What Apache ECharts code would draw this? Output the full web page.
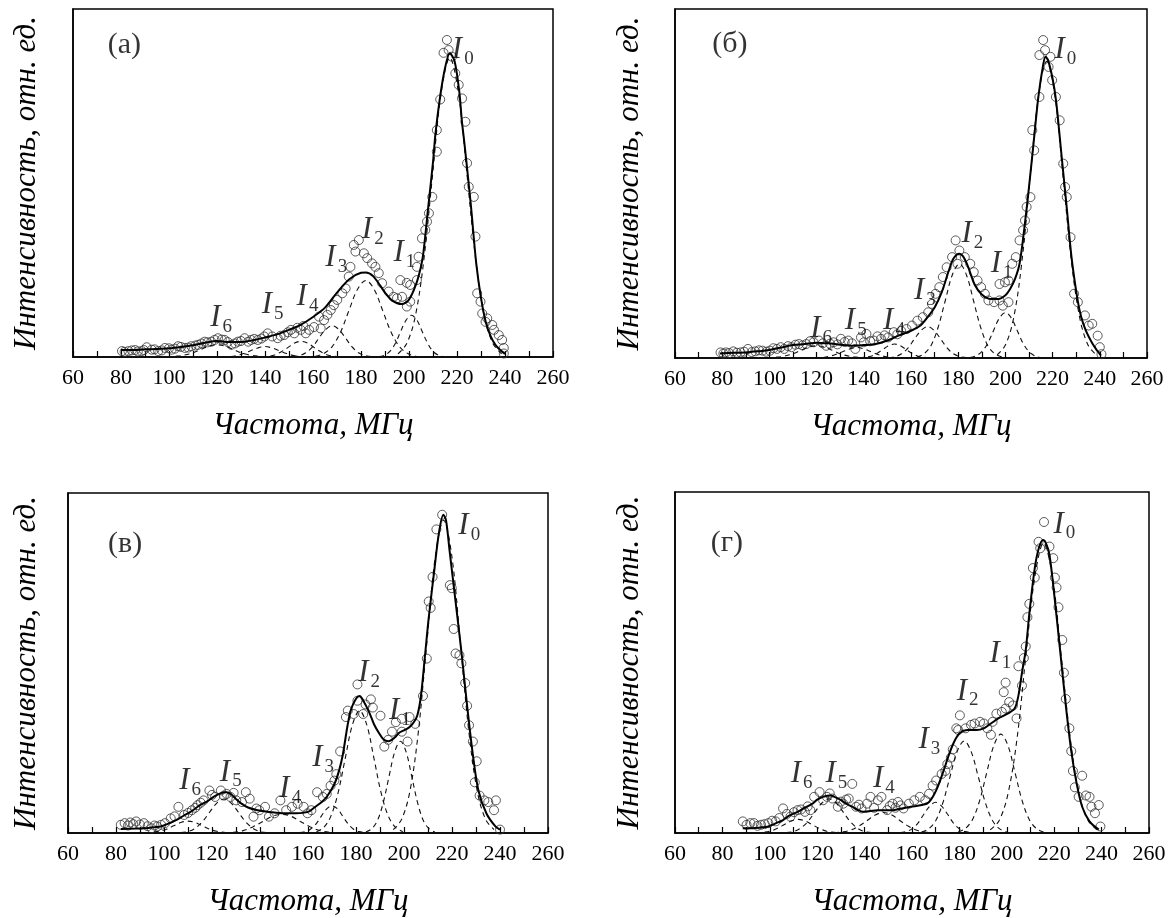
<!DOCTYPE html>
<html><head><meta charset="utf-8">
<script src="https://cdn.jsdelivr.net/npm/echarts@6/dist/echarts.min.js"></script>
<style>html,body{margin:0;padding:0;background:#fff}#c{width:1172px;height:918px}</style>
</head><body><div id="c"></div>
<script>
// ---------- tick labels ----------
const xTickLabels = [60, 80, 100, 120, 140, 160, 180, 200, 220, 240, 260];
const panelNames = ['(а)', '(б)', '(в)', '(г)'];
const xTitle = 'Частота, МГц';
const yTitle = 'Интенсивность, отн. ед.';

// ---------- panel (а) ----------
const scatA = [[80.4,1.7],[81.5,1.5],[83.1,1.7],[84.5,1.9],[85.9,2],[87,1.6],[88.6,1.7],[89.5,2],[90.7,2.8],[92.8,2.1],[94,2.2],[95.5,1.7],[97,1.9],[98.3,2.6],[100,2.5],[101.1,2.1],[102.5,2.4],[103.8,3.1],[105,2.9],[106.6,2.6],[108,2.7],[109.3,3.1],[111,3.3],[112.1,3.5],[113.5,3.9],[114.9,4.4],[116,4.2],[117.6,4.4],[119,4.9],[120.4,5.4],[122,5],[123.2,4.9],[124.5,4.3],[126,3.5],[127.5,3.9],[128.7,4.4],[130,4.6],[131.5,5.4],[133,4.4],[134.2,4.9],[135.5,5.2],[137,4.9],[138.5,5.3],[139.7,5.9],[141.1,6.8],[143,5.9],[145.3,5.4],[146.5,6.1],[148,6.3],[149.5,7.1],[150.8,7.8],[152.2,6.8],[153.5,8.4],[154.9,7.8],[156,8.9],[157,6.8],[158.4,7.8],[160.4,8.6],[162.5,11.6],[163.2,8.2],[164.6,10.6],[166,12.1],[167.4,13.5],[168.7,14.9],[170.1,16.4],[172.2,18.3],[173.6,19.7],[174.9,23.1],[175.6,25.9],[177,32.2],[177.7,30.3],[179.1,33.6],[181.2,29.8],[182.6,28.4],[184.6,26.9],[186,25.9],[187.4,24.1],[188.8,21.2],[191.5,18.8],[193.6,17.3],[195,16.9],[196.4,22.1],[197.1,17.3],[199.1,21.3],[199.1,14.5],[200.5,20.7],[200.5,15.9],[203.3,22.1],[203.3,25.9],[204,28.8],[205.4,34.1],[206.8,36.5],[207.5,38.9],[208.3,41.3],[209.7,46],[211.6,59],[211.6,65.2],[213,74],[214.4,87.4],[215.8,91.1],[216.5,88.2],[217.9,86.3],[219.3,81.5],[220.7,78.2],[222.1,74.3],[223.5,67.6],[224.2,55.7],[224.9,48.9],[227,46],[227.7,34.6],[228.4,18.3],[229.8,15.9],[230.5,12.5],[231.9,10.1],[232.6,11.1],[234.7,9.2],[235.4,7.8],[237.4,6.3],[238.8,4.9],[239.5,2.6],[239.5,1]];
const fitA = [[80,2],[85,2],[90,2.2],[95,2.3],[100,2.5],[105,2.9],[110,3.4],[115,4.1],[120,4.6],[125,4.3],[130,4.3],[135,4.8],[140,5.6],[145,6.5],[150,7.8],[155,9.3],[160,11.5],[165,14.2],[170,18.5],[175,22.3],[180,24.2],[182,24.3],[185,23.3],[188,20.5],[190,18.5],[193,16.2],[197,15.2],[200,16.5],[203,21],[205,26],[206,30],[208,43],[210,56],[211,64],[213,75],[215,83],[217,87.3],[219,85],[221,76],[222,68],[223,62],[225,49],[226,42],[228,27],[230,17],[232,10],[234,6],[236,3.5],[238,2],[240,0.9]];
const compA_I0 = [[195.4,0.9],[199,3.8],[202.6,11.6],[206.2,28],[209.8,52.2],[213.4,75.9],[217,86],[220.6,75.9],[224.2,52.2],[227.8,28],[231.4,11.6],[235,3.8],[238.6,0.9]];
const compA_I1 = [[187.5,0.1],[189.8,0.5],[192,1.6],[194.3,3.9],[196.5,7.3],[198.8,10.6],[201,12],[203.3,10.6],[205.5,7.3],[207.8,3.9],[210,1.6],[212.3,0.5],[214.5,0.1]];
const compA_I2 = [[161,0.2],[164.5,1],[168,3],[171.5,7.2],[175,13.4],[178.5,19.4],[182,22],[185.5,19.4],[189,13.4],[192.5,7.2],[196,3],[199.5,1],[203,0.2]];
const compA_I3 = [[151.5,0.1],[154.3,0.4],[157,1.2],[159.8,2.9],[162.5,5.5],[165.3,7.9],[168,9],[170.8,7.9],[173.5,5.5],[176.3,2.9],[179,1.2],[181.8,0.4],[184.5,0.1]];
const compA_I4 = [[138.5,0],[141.3,0.2],[144,0.6],[146.8,1.5],[149.5,2.7],[152.3,4],[155,4.5],[157.8,4],[160.5,2.7],[163.3,1.5],[166,0.6],[168.8,0.2],[171.5,0]];
const compA_I5 = [[122,0],[125,0.1],[128,0.4],[131,1],[134,1.8],[137,2.6],[140,3],[143,2.6],[146,1.8],[149,1],[152,0.4],[155,0.1],[158,0]];
const compA_I6 = [[99,0],[102.5,0.2],[106,0.5],[109.5,1.1],[113,2.1],[116.5,3.1],[120,3.5],[123.5,3.1],[127,2.1],[130.5,1.1],[134,0.5],[137.5,0.2],[141,0]];
const labA = [['0',222.4,88.2],['1',198.1,29.9],['2',184.9,36.5],['3',169.7,28.4],['4',157.7,17.3],['5',143.2,15],['6',121.7,11.2]];
const panelPosA = [81.4, 89.7];

// ---------- panel (б) ----------
const scatB = [[79.3,1.6],[80.5,1.3],[81.6,1.6],[83,1.4],[84.7,1.9],[86.2,1.5],[87.8,1.6],[89.3,1.8],[90.9,2.6],[92.5,1.7],[94,1.9],[95.6,2.2],[97.1,2.1],[98.7,1.8],[100.2,2.1],[101.7,2.8],[103.2,2.6],[104.8,3.1],[106.3,2.6],[107.9,3.4],[109.4,3.1],[111,3.8],[112.5,4],[114,3.6],[115.6,4],[117.2,4.8],[118.7,4.5],[121,5],[122.6,4.2],[124.1,3.5],[125.7,4.1],[127.2,4.5],[128.8,3.9],[130.3,5.5],[131.9,4.6],[133.4,5],[135,4.2],[136.4,2.6],[138.8,5.9],[140,4.5],[141.1,6.9],[142.7,4.8],[144.2,5],[145.8,6.2],[147.3,5.5],[148.8,6.5],[150.3,5.9],[152.7,7.4],[154.2,6.8],[155.8,7.8],[158.1,8.3],[160.4,9.3],[162.7,10.7],[165,11.7],[167.3,13.1],[168.9,15.5],[170.4,18.4],[172,20.3],[173.5,23.2],[175.1,26],[177.4,28.9],[178.9,33.7],[179.7,27],[180.5,30.8],[182.8,28.9],[185.1,27],[186.6,24.6],[188.2,22.2],[189.7,20.3],[191.3,18.4],[192.8,16.5],[195.2,16],[197.5,16.5],[197.5,21.2],[198.9,15],[199.8,21.7],[201.3,16],[201.3,22.2],[202.9,27],[204.4,28.9],[206,33.7],[207.5,36.6],[208.3,39.4],[209,43.3],[210.6,46.1],[211.4,65.3],[212.2,59.5],[214.4,74.8],[214.4,86.8],[216,91.1],[216.8,88.2],[218.3,83.4],[219.1,86.3],[219.8,79.6],[221.4,74.8],[223,68.1],[224.5,55.7],[225.3,49],[226,46.1],[227.6,34.6],[229.1,18.4],[230.7,16],[233.7,12.2],[235.3,9.3],[236.8,9.8],[239.1,6.4],[240,3.1],[240.7,1.1]];
const fitB = [[79,1.3],[85,1.5],[90,1.6],[95,1.9],[100,2.3],[105,3],[110,3.7],[115,4],[120,4.4],[125,4.2],[130,3.8],[135,3.5],[140,3.7],[145,4],[150,5],[155,6.5],[160,7.8],[164,9.3],[167,11.7],[170,14.5],[173,18.8],[176,25],[178,28.5],[180.5,29.9],[182,29.2],[184,26.5],[187,21],[190,18.2],[193,17],[197,16.9],[200,18],[202,19.8],[204,22.5],[206,27],[208,37],[210,49],[212,62],[214,75],[216,84],[217,86.3],[218,85.5],[220,80],[221.5,73.5],[223.5,60],[226,43],[228,29],[230.5,17],[232,12],[234,8],[237,4],[239,2],[240.5,0.7]];
const compB_I0 = [[196.5,0.9],[200,3.7],[203.5,11.5],[207,27.6],[210.5,51.6],[214,75],[217.5,85],[221,75],[224.5,51.6],[228,27.6],[231.5,11.5],[235,3.7],[238.5,0.9]];
const compB_I1 = [[185,0.1],[187.5,0.6],[190,1.8],[192.5,4.2],[195,7.9],[197.5,11.5],[200,13],[202.5,11.5],[205,7.9],[207.5,4.2],[210,1.8],[212.5,0.6],[215,0.1]];
const compB_I2 = [[162.5,0.3],[165.5,1.2],[168.5,3.6],[171.5,8.8],[174.5,16.4],[177.5,23.8],[180.5,27],[183.5,23.8],[186.5,16.4],[189.5,8.8],[192.5,3.6],[195.5,1.2],[198.5,0.3]];
const compB_I3 = [[150.5,0.1],[153.3,0.4],[156,1.2],[158.8,2.9],[161.5,5.5],[164.3,7.9],[167,9],[169.8,7.9],[172.5,5.5],[175.3,2.9],[178,1.2],[180.8,0.4],[183.5,0.1]];
const compB_I4 = [[138,0],[140.5,0.2],[143,0.5],[145.5,1.3],[148,2.4],[150.5,3.5],[153,4],[155.5,3.5],[158,2.4],[160.5,1.3],[163,0.5],[165.5,0.2],[168,0]];
const compB_I5 = [[119,0],[122,0.1],[125,0.4],[128,1],[131,1.8],[134,2.6],[137,3],[140,2.6],[143,1.8],[146,1],[149,0.4],[152,0.1],[155,0]];
const compB_I6 = [[99,0],[102.5,0.2],[106,0.5],[109.5,1.1],[113,2.1],[116.5,3.1],[120,3.5],[123.5,3.1],[127,2.1],[130.5,1.1],[134,0.5],[137.5,0.2],[141,0]];
const labB = [['0',225.4,88.2],['1',198.4,27],['2',186,35.6],['3',165.9,19.3],['4',152.8,10.7],['5',136.6,10.7],['6',121.9,8.3]];
const panelPosB = [83.3, 89.9];

// ---------- panel (в) ----------
const scatC = [[82,2.4],[83.6,2.9],[85,2.2],[86,3.1],[87.2,2.6],[88.4,3.4],[90,2.5],[91.6,2.9],[93.2,2],[94.8,1.4],[96,2.2],[97.2,1.9],[98.8,2.4],[100.4,2.9],[102.8,4.3],[104.4,4.9],[106,7.7],[108.4,5.3],[110,5.9],[111.6,6.7],[113,7.4],[114,8.2],[115.3,8.9],[116.5,9.6],[118.9,12.5],[120,11.2],[121.3,10.6],[123.7,12.5],[125,11],[126.1,11.5],[127.7,10.6],[129,11.8],[130.1,9.6],[132.5,9.1],[134.1,12],[135.7,10.1],[137.3,4.8],[138.5,7.2],[139.7,6.7],[142.1,7.7],[143.7,4.8],[146.1,5.8],[148.5,9.6],[150.9,6.7],[153.3,7.7],[155.7,8.6],[158.2,7.7],[159.8,5.8],[161.4,6.7],[163.8,12],[166.2,10.6],[167.8,11.5],[169.4,13.9],[171,15.4],[171.8,17.3],[173.4,24],[175.8,34.1],[176.6,36],[179,35],[180.6,38.9],[180.6,43.7],[183,35],[184,37.8],[186.2,39.3],[187,36.9],[190.2,34.5],[191.8,25.4],[193.4,27.4],[195,29.8],[196.6,32.6],[199.1,33.6],[199.1,29.8],[201.5,26.9],[202.3,34.1],[204.7,32.1],[207.9,40.3],[209.5,51.3],[210.3,68.1],[211.1,66.2],[211.9,75.3],[213.5,89.3],[215.9,93.6],[219.1,72.9],[219.9,72],[220.7,60],[221.5,52.8],[223.1,52.3],[223.9,49.9],[225.5,44.1],[226.3,37.4],[227.1,31.7],[228.7,26.9],[229.5,14.9],[230.3,21.1],[231.5,11],[233.5,9.6],[235.1,9.1],[237.5,6.7],[238.3,9.6],[240,1]];
const fitC = [[82,1.2],[88,1.3],[92,1.4],[96,1.7],[99,2],[102,2.8],[105,3.8],[108,5],[111,6.2],[115,8.2],[118,9.3],[121,10.8],[124,11.8],[126,12],[128,11.4],[130,10],[132,8.8],[135,7.5],[139,6.7],[144,6.2],[150,5.8],[155,5.8],[160,6.2],[163,7.7],[166,9.3],[168,10.8],[171,14.4],[173,18.5],[174.5,23],[176.5,31.7],[178,36.5],[180,39.5],[181.5,40.3],[183,39],[185.5,35.5],[187.5,32],[189.5,29.5],[191.5,27.5],[193.5,27],[196,28],[198,29.5],[200,30.2],[202,31],[203.5,32],[205.5,34.5],[207,40],[208.7,51.8],[210.3,63.3],[212.7,77.7],[214.5,88],[216.4,93.6],[217.5,92],[219,83],[221.5,68],[224,52.8],[226.3,37.4],[228.7,23],[231,12.5],[234.3,5.8],[238,2],[240,1]];
const compC_I0 = [[195.5,1],[199,4],[202.5,12.4],[206,29.9],[209.5,55.8],[213,81.1],[216.5,92],[220,81.1],[223.5,55.8],[227,29.9],[230.5,12.4],[234,4],[237.5,1]];
const compC_I1 = [[184.1,0.3],[186.5,1.2],[188.9,3.6],[191.3,8.8],[193.7,16.4],[196.1,23.8],[198.5,27],[200.9,23.8],[203.3,16.4],[205.7,8.8],[208.1,3.6],[210.5,1.2],[212.9,0.3]];
const compC_I2 = [[163.5,0.4],[166.5,1.6],[169.5,4.9],[172.5,11.7],[175.5,21.9],[178.5,31.8],[181.5,36],[184.5,31.8],[187.5,21.9],[190.5,11.7],[193.5,4.9],[196.5,1.6],[199.5,0.4]];
const compC_I3 = [[156.5,0.1],[158.8,0.4],[161,1.1],[163.3,2.6],[165.5,4.9],[167.8,7.1],[170,8],[172.3,7.1],[174.5,4.9],[176.8,2.6],[179,1.1],[181.3,0.4],[183.5,0.1]];
const compC_I4 = [[125,0.1],[129,0.2],[133,0.7],[137,1.8],[141,3.3],[145,4.9],[149,5.5],[153,4.9],[157,3.3],[161,1.8],[165,0.7],[169,0.2],[173,0.1]];
const compC_I5 = [[107,0.1],[110,0.4],[113,1.4],[116,3.3],[119,6.1],[122,8.8],[125,10],[128,8.8],[131,6.1],[134,3.3],[137,1.4],[140,0.4],[143,0.1]];
const compC_I6 = [[92,0],[95,0.2],[98,0.5],[101,1.1],[104,2.1],[107,3.1],[110,3.5],[113,3.1],[116,2.1],[119,1.1],[122,0.5],[125,0.2],[128,0]];
const labC = [['0',227.2,90.2],['1',198.3,36],['2',185.5,47],['3',166.3,22],['4',152.6,13],['5',127.8,17.8],['6',110.9,15.4]];
const panelPosC = [83.8, 85];

// ---------- panel (г) ----------
const scatD = [[88.6,3.4],[90.2,2.4],[91.8,2.9],[93.3,2.9],[94.8,2.1],[96.3,2.4],[97.8,2.6],[99.4,2.9],[101,3.6],[102.5,3.4],[104,4.4],[105.6,7.2],[107.2,5.6],[108.7,4.8],[110.2,6.1],[111.7,6.7],[113.2,6.9],[114.8,6.2],[116,7.8],[117.1,6.7],[118.7,10.6],[121,12],[122.5,9.6],[124.1,10.6],[125.3,11.6],[126.4,10.1],[128.7,7.7],[130,9.2],[131,8.6],[132.2,9.8],[133.3,10.1],[134.8,14.4],[136.4,7.7],[137.6,8.3],[138.7,7.2],[141,8.6],[142.5,10.6],[144,7.4],[145.6,9.6],[147.1,10.6],[149.5,6.7],[150.6,7.9],[151.8,8.6],[153,7.4],[154.1,9.1],[155.2,8.1],[156.4,7.2],[158.7,8.6],[161,9.6],[163.3,10.6],[165.6,9.6],[167.2,11.5],[168.7,13.9],[170.2,15.4],[172.5,17.3],[174.1,18.2],[174.9,20.2],[176.4,22.1],[177.2,24.5],[178.7,30.7],[179.5,30.2],[180.2,34.5],[182.6,30.7],[184.9,31.7],[186.4,32.1],[188.7,32.6],[190.3,32.1],[191.8,30.7],[193.3,28.8],[194,32.6],[195.6,35],[197.9,35.5],[198.7,41.3],[199.5,44.1],[199.5,36.5],[201,38.4],[202.6,37.4],[204.1,33.6],[204.9,48.9],[206.4,43.2],[207.2,51.3],[208,54.7],[208.7,63.3],[209.5,67.2],[211,77.7],[211.8,74.9],[213.4,85.4],[214.1,83.5],[215.7,91.2],[218,84],[219.6,80.6],[220.3,74.9],[221,72],[221.8,66.2],[223.4,56.6],[224.1,47],[224.9,39.3],[226.4,30.7],[227.2,24],[227.9,18.2],[228.7,13.4],[230.3,10.6],[231.8,16.8],[233.4,11],[234.9,10.6],[235.7,7.7],[237.2,5.8],[238.8,8.2],[239.5,1.9]];
const fitD = [[88.6,1.4],[93,1.4],[96,1.6],[99.4,1.9],[102,2.7],[105.6,3.8],[108,5],[111.7,6.2],[115,7.5],[118,8.6],[120,9.8],[122.5,10.6],[125.6,11],[127.5,10.5],[130.2,9.6],[132.5,8.5],[134.8,7.7],[137,6.8],[139.4,6.2],[145.6,6.7],[151.8,6.7],[155,7.1],[159.5,7.7],[164.1,8.2],[167.2,9.1],[170.2,12.5],[173.3,18.2],[175.6,23],[177.9,26.9],[180.2,29.3],[183.3,30.2],[187.2,30.2],[190.3,30.7],[193.3,32.1],[196.4,33.6],[200.3,35],[203.3,36.5],[204.9,40.3],[206.4,47],[208,53.7],[209.5,64.3],[211.8,77.7],[213.5,83.5],[215.3,85.9],[216.5,85],[218,81.6],[220.3,68.1],[222.6,52.8],[224.9,37.4],[227.2,24],[229.5,14.4],[231.8,7.7],[234.9,3.4],[238.8,1]];
const compD_I0 = [[193,0.9],[196.8,3.7],[200.5,11.5],[204.3,27.6],[208,51.6],[211.8,75],[215.5,85],[219.3,75],[223,51.6],[226.8,27.6],[230.5,11.5],[234.3,3.7],[238,0.9]];
const compD_I1 = [[179.5,0.3],[182.5,1.3],[185.5,3.9],[188.5,9.4],[191.5,17.6],[194.5,25.6],[197.5,29],[200.5,25.6],[203.5,17.6],[206.5,9.4],[209.5,3.9],[212.5,1.3],[215.5,0.3]];
const compD_I2 = [[164,0.3],[167,1.2],[170,3.6],[173,8.8],[176,16.4],[179,23.8],[182,27],[185,23.8],[188,16.4],[191,8.8],[194,3.6],[197,1.2],[200,0.3]];
const compD_I3 = [[155,0.1],[157.5,0.4],[160,1.2],[162.5,2.9],[165,5.5],[167.5,7.9],[170,9],[172.5,7.9],[175,5.5],[177.5,2.9],[180,1.2],[182.5,0.4],[185,0.1]];
const compD_I4 = [[127,0.1],[130.5,0.3],[134,0.8],[137.5,2],[141,3.6],[144.5,5.3],[148,6],[151.5,5.3],[155,3.6],[158.5,2],[162,0.8],[165.5,0.3],[169,0.1]];
const compD_I5 = [[107,0.1],[110,0.4],[113,1.4],[116,3.3],[119,6.1],[122,8.8],[125,10],[128,8.8],[131,6.1],[134,3.3],[137,1.4],[140,0.4],[143,0.1]];
const compD_I6 = [[94,0],[97,0.2],[100,0.5],[103,1.3],[106,2.4],[109,3.5],[112,4],[115,3.5],[118,2.4],[121,1.3],[124,0.5],[127,0.2],[130,0]];
const labD = [['0',224.3,90.5],['1',197.3,52.5],['2',183.5,41.5],['3',167.3,27.4],['4',148.1,15.8],['5',128.1,17.3],['6',113.4,17.3]];
const panelPosD = [81.9, 85];

// ---------- build ----------
const FONT = '"Liberation Serif","Times New Roman",serif';
const grids = [
  {left: 73, top: 9, width: 480, height: 348},
  {left: 675, top: 9, width: 472, height: 349},
  {left: 68, top: 493, width: 480, height: 346},
  {left: 675, top: 492, width: 474, height: 347}
];
const xNameGap = [53, 53, 53, 53];
const yNameGap = [31, 30, 26, 30];
const panels = [
  {scat: scatA, fit: fitA, comps: [compA_I0, compA_I1, compA_I2, compA_I3, compA_I4, compA_I5, compA_I6], labs: labA, pos: panelPosA},
  {scat: scatB, fit: fitB, comps: [compB_I0, compB_I1, compB_I2, compB_I3, compB_I4, compB_I5, compB_I6], labs: labB, pos: panelPosB},
  {scat: scatC, fit: fitC, comps: [compC_I0, compC_I1, compC_I2, compC_I3, compC_I4, compC_I5, compC_I6], labs: labC, pos: panelPosC},
  {scat: scatD, fit: fitD, comps: [compD_I0, compD_I1, compD_I2, compD_I3, compD_I4, compD_I5, compD_I6], labs: labD, pos: panelPosD}
];

const option = {
  animation: false,
  backgroundColor: '#fff',
  grid: grids.map(g => Object.assign({show: true, borderColor: '#000', borderWidth: 1.5, backgroundColor: 'transparent'}, g)),
  xAxis: grids.map((g, i) => ({
    gridIndex: i, type: 'value', min: 60, max: 260, interval: 10,
    axisLine: {show: true, onZero: false, lineStyle: {color: '#000', width: 1.5}},
    axisTick: {show: true, inside: true, length: 6, lineStyle: {color: '#000', width: 1.2}},
    axisLabel: {show: true, color: '#000', fontFamily: FONT, fontSize: 22, margin: 10, hideOverlap: false,
      showMinLabel: true, showMaxLabel: true,
      formatter: v => xTickLabels.includes(v) ? String(v) : ''},
    splitLine: {show: false},
    name: xTitle, nameLocation: 'middle', nameGap: xNameGap[i],
    nameTextStyle: {fontFamily: FONT, fontStyle: 'italic', fontSize: 31, color: '#000'}
  })),
  yAxis: grids.map((g, i) => ({
    gridIndex: i, type: 'value', min: 0, max: 100,
    axisLine: {show: true, lineStyle: {color: '#000', width: 1.5}},
    axisTick: {show: false}, axisLabel: {show: false}, splitLine: {show: false},
    name: yTitle, nameLocation: 'middle', nameGap: yNameGap[i],
    nameTextStyle: {fontFamily: FONT, fontStyle: 'italic', fontSize: 31, color: '#000'}
  })),
  series: []
};

panels.forEach((p, i) => {
  option.series.push({
    type: 'scatter', xAxisIndex: i, yAxisIndex: i, data: p.scat, symbol: 'circle', symbolSize: 9,
    itemStyle: {color: 'rgba(255,255,255,0)', borderColor: '#333', borderWidth: 1}, z: 2, silent: true
  });
  p.comps.forEach(c => option.series.push({
    type: 'line', xAxisIndex: i, yAxisIndex: i, data: c, smooth: 0.35, showSymbol: false,
    lineStyle: {color: '#111', width: 1.1, type: [5, 4]}, z: 3, silent: true
  }));
  option.series.push({
    type: 'line', xAxisIndex: i, yAxisIndex: i, data: p.fit, smooth: 0.3, showSymbol: false,
    lineStyle: {color: '#000', width: 2}, z: 4, silent: true
  });
  option.series.push({
    type: 'scatter', xAxisIndex: i, yAxisIndex: i, symbolSize: 1, z: 5, silent: true,
    itemStyle: {color: 'rgba(0,0,0,0)'},
    data: p.labs.map(l => ({value: [l[1], l[2]], sub: l[0]})),
    label: {show: true, position: 'inside', color: '#000',
      formatter: prm => '{i|I}{s|' + prm.data.sub + '}',
      rich: {
        i: {fontFamily: FONT, fontStyle: 'italic', fontSize: 31, color: '#000'},
        s: {fontFamily: FONT, fontSize: 19, color: '#000', padding: [18, 0, 0, 2]}
      }}
  });
  option.series.push({
    type: 'scatter', xAxisIndex: i, yAxisIndex: i, symbolSize: 1, z: 5, silent: true,
    itemStyle: {color: 'rgba(0,0,0,0)'},
    data: [{value: p.pos, name: panelNames[i]}],
    label: {show: true, position: 'inside', color: '#000', fontFamily: FONT, fontSize: 30,
      formatter: prm => prm.name}
  });
});

const chart = echarts.init(document.getElementById('c'), null, {renderer: 'canvas'});
chart.setOption(option);
</script>
</body></html>
